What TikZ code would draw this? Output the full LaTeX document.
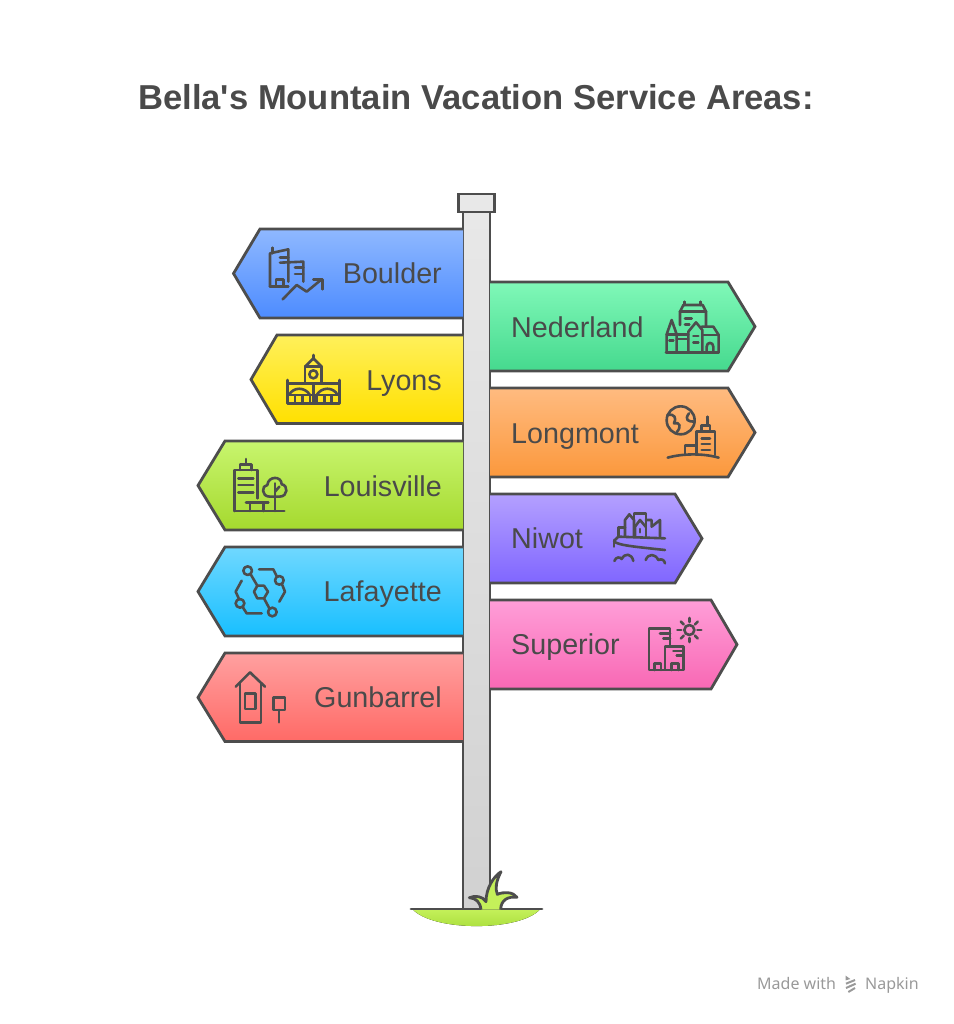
\documentclass[tikz,border=0pt]{standalone}
\usepackage{fontspec}
\setmainfont[Ligatures=TeXOff]{Liberation Sans}
\newfontfamily\footfont{Noto Sans}
\definecolor{linegray}{HTML}{4D4D4D}
\definecolor{textgray}{HTML}{4A4A4A}
\definecolor{footgray}{HTML}{999999}
\definecolor{grasstop}{HTML}{C4F05A}
\definecolor{grassbot}{HTML}{A6DC38}
\definecolor{boulderA}{HTML}{8FB8FF}
\definecolor{boulderB}{HTML}{4D8CFF}
\definecolor{lyonsA}{HTML}{FFF05A}
\definecolor{lyonsB}{HTML}{FFE000}
\definecolor{louisvilleA}{HTML}{C8F56E}
\definecolor{louisvilleB}{HTML}{A5D92E}
\definecolor{lafayetteA}{HTML}{70D8FF}
\definecolor{lafayetteB}{HTML}{18BFFF}
\definecolor{gunbarrelA}{HTML}{FFA0A0}
\definecolor{gunbarrelB}{HTML}{FF6A66}
\definecolor{nederlandA}{HTML}{80F8B8}
\definecolor{nederlandB}{HTML}{45D98E}
\definecolor{longmontA}{HTML}{FFBB80}
\definecolor{longmontB}{HTML}{FB983C}
\definecolor{niwotA}{HTML}{B4A0FF}
\definecolor{niwotB}{HTML}{8066FF}
\definecolor{superiorA}{HTML}{FF9ED8}
\definecolor{superiorB}{HTML}{F868B4}
\tikzset{
  signbox/.style 2 args={draw=linegray,line width=2.8pt,top color=#1,bottom color=#2},
  signtext/.style={text=textgray,inner sep=0pt,font=\fontsize{28.7}{30}\selectfont},
  iconline/.style={draw=linegray,line width=2.6pt,line join=round,line cap=round},
  iconat/.style 2 args={shift={(#1,#2)},scale=1/3},
}
\begin{document}
\begin{tikzpicture}[x=1pt,y=-1pt]
  \useasboundingbox (0,0) rectangle (953,1024);
  \node[anchor=base,inner sep=0pt,text=textgray,
        font=\bfseries\fontsize{34.6}{40}\selectfont] (title) at (476,110) {Bella's Mountain Vacation Service Areas:};
  % post
  \draw[draw=linegray,line width=2.8pt,top color=black!9,bottom color=black!18] (463,212) rectangle (490,909);
  \draw[draw=linegray,line width=2.8pt,fill=black!9] (458.5,194) rectangle (494.5,212);
  % left signs
  \draw[signbox={boulderA}{boulderB}] (463,229) -- (260,229) -- (233.5,273.5) -- (260,318) -- (463,318);
  \node[signtext,anchor=base east] (boulder) at (442,283) {Boulder};
  \draw[signbox={lyonsA}{lyonsB}] (463,335) -- (277,335) -- (251,379.5) -- (277,423.5) -- (463,423.5);
  \node[signtext,anchor=base east] (lyons) at (442,390) {Lyons};
  \draw[signbox={louisvilleA}{louisvilleB}] (463,441) -- (225,441) -- (198,485.5) -- (225,530) -- (463,530);
  \node[signtext,anchor=base east] (louisville) at (442,496) {Louisville};
  \draw[signbox={lafayetteA}{lafayetteB}] (463,547) -- (225,547) -- (198,591.5) -- (225,636) -- (463,636);
  \node[signtext,anchor=base east] (lafayette) at (442,601) {Lafayette};
  \draw[signbox={gunbarrelA}{gunbarrelB}] (463,653) -- (225,653) -- (198,697.5) -- (225,741.5) -- (463,741.5);
  \node[signtext,anchor=base east] (gunbarrel) at (442,707) {Gunbarrel};
  % right signs
  \draw[signbox={nederlandA}{nederlandB}] (490,282) -- (728,282) -- (755,326.5) -- (728,371) -- (490,371);
  \node[signtext,anchor=base west] (nederland) at (511,337) {Nederland};
  \draw[signbox={longmontA}{longmontB}] (490,388) -- (728,388) -- (755,432.5) -- (728,477) -- (490,477);
  \node[signtext,anchor=base west] (longmont) at (511,443) {Longmont};
  \draw[signbox={niwotA}{niwotB}] (490,494) -- (675,494) -- (702,538.5) -- (675,583) -- (490,583);
  \node[signtext,anchor=base west] (niwot) at (511,548) {Niwot};
  \draw[signbox={superiorA}{superiorB}] (490,600) -- (711,600) -- (737,644.5) -- (711,689) -- (490,689);
  \node[signtext,anchor=base west] (superior) at (511,654) {Superior};
  % boulder icon
  \begin{scope}[iconat={190}{220}]
    \draw[iconline] (240,200) -- (240,100) -- (295,88) -- (295,185);
    \draw[iconline] (247,83) -- (247,100);
    \draw[iconline] (240,200) -- (295,200);
    \draw[iconline] (258,200) -- (258,178) -- (280,178) -- (280,200);
    \draw[iconline] (270,112) -- (295,112);
    \draw[iconline] (270,128) -- (340,125) -- (340,185);
    \draw[iconline] (315,143) -- (340,143);
    \draw[iconline] (315,162) -- (340,162);
    \draw[iconline] (278,238) -- (320,195) -- (350,215) -- (395,178);
    \draw[iconline] (370,178) -- (397,178) -- (397,208);
  \end{scope}
  % lyons icon
  \begin{scope}[iconat={190}{220}]
    \draw[iconline] (370,405) -- (370,418);
    \draw[iconline] (345,440) -- (370,415) -- (395,440);
    \draw[iconline] (345,490) -- (345,440) -- (395,440) -- (395,490);
    \draw[iconline] (370,463) circle (12);
    \draw[iconline] (292,480) -- (292,550) -- (448,550) -- (448,480);
    \draw[iconline] (292,490) -- (448,490);
    \draw[iconline] (292,525) -- (448,525);
    \draw[iconline] (297,525) .. controls (310,500) and (345,500) .. (360,525);
    \draw[iconline] (380,525) .. controls (395,500) and (430,500) .. (443,525);
    \draw[iconline] (370,490) -- (370,550);
    \foreach \wx in {315,338,360,380,403,425}
      \draw[iconline] (\wx,527) -- (\wx,550);
  \end{scope}
  % louisville icon
  \begin{scope}[iconat={190}{435}]
    \draw[iconline] (133,228) -- (133,105) -- (203,105) -- (203,190);
    \draw[iconline] (150,105) -- (150,88) -- (185,88) -- (185,105);
    \draw[iconline] (168,72) -- (168,88);
    \draw[iconline] (145,130) -- (190,130);
    \draw[iconline] (145,150) -- (190,150);
    \draw[iconline] (145,172) -- (190,172);
    \draw[iconline] (133,228) -- (283,228);
    \draw[iconline] (168,202) -- (235,202);
    \draw[iconline] (180,202) -- (180,228);
    \draw[iconline] (220,202) -- (220,228);
    \draw[iconline] (240,185) .. controls (212,185) and (215,150) .. (232,150) .. controls (235,122) and (275,122) .. (275,148) .. controls (295,150) and (295,185) .. (268,185) -- (240,185);
    \draw[iconline] (255,145) -- (255,228);
    \draw[iconline] (255,170) -- (268,155);
  \end{scope}
  % lafayette icon
  \begin{scope}[iconat={190}{435}]
    \draw[iconline] (173,407) circle (13);
    \draw[iconline] (268,436) circle (13);
    \draw[iconline] (150,505) circle (13);
    \draw[iconline] (247,531) circle (13);
    \draw[iconline] (192,470) -- (202,452) -- (222,452) -- (234,470) -- (222,490) -- (202,490) -- cycle;
    \draw[iconline] (182,418) -- (202,452);
    \draw[iconline] (222,490) -- (238,520);
    \draw[iconline] (207,403) -- (250,403) -- (260,423);
    \draw[iconline] (277,450) -- (285,470) -- (268,500);
    \draw[iconline] (155,437) -- (137,470) -- (147,492);
    \draw[iconline] (158,516) -- (170,535) -- (215,535);
  \end{scope}
  % gunbarrel icon
  \begin{scope}[iconat={190}{435}]
    \draw[iconline] (137,755) -- (180,712) -- (225,755);
    \draw[iconline] (150,745) -- (150,862) -- (213,862) -- (213,745);
    \draw[iconline] (165,775) rectangle (197,822);
    \draw[iconline] (250,788) rectangle (285,825);
    \draw[iconline] (267,825) -- (267,862);
  \end{scope}
  % nederland icon
  \begin{scope}[iconat={480}{275}]
    \draw[iconline] (558,232) -- (716,232);
    \draw[iconline] (600,150) -- (600,110) -- (610,90) -- (668,90) -- (678,110) -- (678,155);
    \draw[iconline] (600,110) -- (678,110);
    \draw[iconline] (613,80) -- (613,90);
    \draw[iconline] (662,80) -- (662,90);
    \draw[iconline] (615,130) -- (635,130);
    \draw[iconline] (615,148) -- (628,148);
    \draw[iconline] (560,232) -- (560,178) -- (575,135) -- (590,178) -- (590,232);
    \draw[iconline] (560,178) -- (625,178);
    \draw[iconline] (590,192) -- (625,192);
    \draw[iconline] (625,232) -- (625,170) -- (648,142) -- (667,165) -- (667,232);
    \draw[iconline] (665,155) -- (700,155) -- (716,180) -- (716,232);
    \draw[iconline] (667,180) -- (716,180);
    \draw[iconline] (680,232) -- (680,215) .. controls (680,200) and (700,200) .. (700,215) -- (700,232);
    \draw[iconline] (568,197) -- (580,197);
    \draw[iconline] (640,183) -- (655,183);
    \draw[iconline] (640,203) -- (655,203);
  \end{scope}
  % longmont icon
  \begin{scope}[iconat={480}{275}]
    \draw[iconline] (602,436) circle (42);
    \draw[iconline] (562,420) .. controls (585,415) and (590,430) .. (582,445) .. controls (600,440) and (605,455) .. (590,472);
    \draw[iconline] (627,415) .. controls (612,435) and (625,440) .. (643,440);
    \draw[iconline] (650,538) -- (650,470) -- (705,470) -- (705,540);
    \draw[iconline] (665,470) -- (665,452) -- (690,452) -- (690,470);
    \draw[iconline] (683,425) -- (683,452);
    \draw[iconline] (665,490) -- (690,490);
    \draw[iconline] (665,507) -- (690,507);
    \draw[iconline] (665,525) -- (690,525);
    \draw[iconline] (615,538) -- (615,512) -- (650,512);
    \draw[iconline] (563,548) .. controls (610,535) and (670,535) .. (716,548);
  \end{scope}
  % niwot icon
  \begin{scope}[iconat={480}{485}]
    \draw[iconline] (415,155) -- (415,128) -- (435,128);
    \draw[iconline] (435,155) -- (435,105) -- (448,88) -- (462,105) -- (462,155);
    \draw[iconline] (462,105) -- (462,85) -- (498,85) -- (498,155);
    \draw[iconline] (465,155) -- (465,125) -- (480,105) -- (497,125);
    \draw[iconline] (498,105) -- (515,105) -- (515,125) -- (540,105) -- (540,155);
    \draw[iconline] (480,132) -- (480,142);
    \draw[iconline] (405,165) -- (415,155) -- (555,160);
    \draw[iconline] (402,165) -- (402,185);
    \draw[iconline] (402,170) .. controls (420,180) and (440,183) .. (555,195);
    \draw[iconline] (403,228) .. controls (408,215) and (420,215) .. (425,222) .. controls (435,203) and (455,205) .. (460,228);
    \draw[iconline] (497,225) .. controls (505,205) and (525,205) .. (535,225) .. controls (545,220) and (553,225) .. (555,235);
  \end{scope}
  % superior icon
  \begin{scope}[iconat={480}{485}]
    \draw[iconline] (555,555) -- (507,555) -- (507,430) -- (570,430) -- (570,485);
    \draw[iconline] (555,555) -- (610,555) -- (610,485) -- (555,485) -- cycle;
    \draw[iconline] (540,445) -- (570,445);
    \draw[iconline] (550,460) -- (570,460);
    \draw[iconline] (580,498) -- (610,498);
    \draw[iconline] (590,512) -- (610,512);
    \draw[iconline] (523,555) -- (523,535) -- (543,535) -- (543,555);
    \draw[iconline] (575,555) -- (575,535) -- (595,535) -- (595,555);
    \draw[iconline] (628,435) circle (15);
    \foreach \ang in {0,45,...,315}
      \draw[iconline] (628,435) ++(\ang:24) -- ++(\ang:12);
  \end{scope}
  % ground and grass
  \begin{scope}[iconat={400}{860}]
    \fill[top color=grasstop,bottom color=grassbot] (38,148) .. controls (100,215) and (360,215) .. (420,148) -- cycle;
    \draw[line width=2.8pt,draw=linegray,line cap=round] (33,147) -- (426,147);
    \path[fill=grasstop,draw=linegray,line width=2.8pt,line join=round] (243,149) .. controls (240,125) and (228,115) .. (208,113)
      .. controls (225,106) and (248,108) .. (258,125) .. controls (258,85) and (280,50) .. (303,35)
      .. controls (288,65) and (285,85) .. (292,103) .. controls (310,95) and (340,95) .. (351,112)
      .. controls (325,108) and (302,120) .. (302,149);
  \end{scope}
  % footer
  \node[anchor=base west,inner sep=0pt,text=footgray,font=\footfont\fontsize{16}{18}\selectfont] (madewith) at (757,989) {Made with};
  \node[anchor=base west,inner sep=0pt,text=footgray,font=\footfont\fontsize{16}{18}\selectfont] (napkin) at (865,989) {Napkin};
  \begin{scope}[iconat={740}{965}]
    \fill[footgray] (317,32) -- (331,42) -- (317,46) -- cycle;
    \draw[footgray,line width=2pt] (318,56) -- (345,45);
    \draw[footgray,line width=2pt] (318,69) -- (347,56);
    \draw[footgray,line width=2pt] (325,81) -- (345,69);
  \end{scope}
\end{tikzpicture}
\end{document}
